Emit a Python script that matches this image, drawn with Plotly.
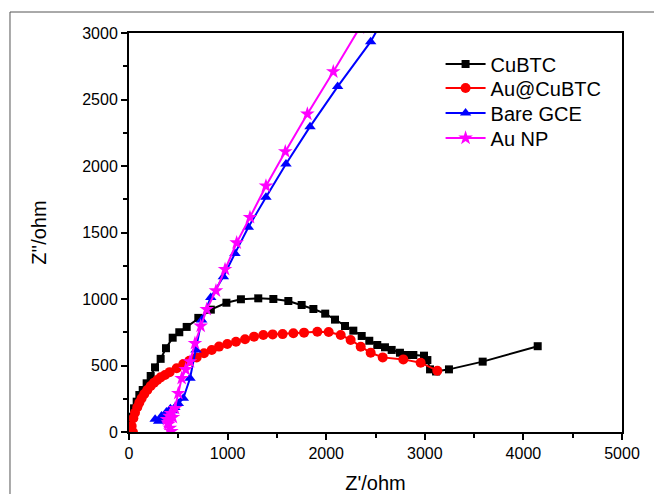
import plotly.graph_objects as go

# Nyquist impedance data (Z' real part, Z'' imaginary part, in ohm)
cubtc_x = [0, 3, 10, 27, 51, 78, 105, 139, 179, 220, 264, 321, 375, 443, 510, 585,
           703, 830, 988, 1135, 1311, 1464, 1616, 1751, 1870, 1990, 2089, 2191,
           2275, 2360, 2437, 2518, 2596, 2664, 2748, 2809, 2884, 2992, 3026,
           3053, 3114, 3245, 3587, 4145]
cubtc_y = [0, 15, 53, 115, 178, 228, 278, 316, 366, 421, 486, 550, 630, 709, 750,
           790, 858, 920, 972, 998, 1005, 1000, 985, 955, 925, 890, 845, 797,
           762, 722, 686, 654, 637, 617, 596, 579, 579, 574, 541, 471, 455,
           471, 529, 645]

au_cubtc_x = [40, 27, 44, 61, 84, 105, 128, 155, 186, 220, 254, 287, 321, 365,
              412, 484, 551, 612, 686, 761, 839, 913, 997, 1085, 1177, 1268,
              1362, 1457, 1558, 1667, 1775, 1910, 2025, 2147, 2248, 2350, 2451,
              2573, 2782, 2958, 3127]
au_cubtc_y = [0, 45, 103, 145, 186, 221, 253, 286, 316, 346, 371, 391, 411, 428,
              450, 479, 511, 536, 561, 592, 617, 642, 662, 679, 697, 717, 729,
              734, 736, 742, 747, 754, 752, 729, 692, 641, 596, 561, 546, 521,
              461]

bare_gce_x = [265, 300, 330, 355, 380, 400, 420, 440, 465, 500, 551, 619, 680,
              737, 829, 957, 1075, 1210, 1389, 1592, 1836, 2116, 2451, 2560]
bare_gce_y = [95, 80, 120, 105, 150, 135, 175, 160, 185, 215, 253, 404, 617,
              842, 1012, 1168, 1343, 1539, 1765, 2015, 2296, 2597, 2935, 3080]

au_np_x = [430, 415, 400, 385, 410, 395, 425, 445, 467, 500, 534, 575, 619, 669,
           727, 788, 882, 974, 1092, 1227, 1389, 1585, 1809, 2072, 2340]
au_np_y = [5, 30, 60, 95, 120, 70, 140, 110, 178, 291, 404, 470, 529, 667, 797,
           922, 1062, 1223, 1423, 1614, 1850, 2108, 2391, 2709, 3040]

series = [
    ("CuBTC", cubtc_x, cubtc_y, "#000000", "square", 8),
    ("Au@CuBTC", au_cubtc_x, au_cubtc_y, "#ff0000", "circle", 10),
    ("Bare GCE", bare_gce_x, bare_gce_y, "#0000ff", "triangle-up", 10),
    ("Au NP", au_np_x, au_np_y, "#ff00ff", "star", 11),
]

FONT = "Arial, Liberation Sans, sans-serif"

# one legend box per series so the rows can be spaced freely
legend_ids = ["legend", "legend2", "legend3", "legend4"]
legend_rows = [0.922, 0.862, 0.7995, 0.737]

fig = go.Figure()
for (name, xs, ys, color, symbol, size), lid in zip(series, legend_ids):
    fig.add_trace(go.Scatter(
        x=xs, y=ys, name=name, mode="lines+markers",
        line=dict(color=color, width=2),
        marker=dict(symbol=symbol, size=size, color=color, line=dict(width=0)),
        cliponaxis=True, legend=lid,
    ))

axis_common = dict(
    showline=True, linecolor="#000000", linewidth=2, mirror=True,
    ticks="outside", ticklen=6, tickwidth=2, tickcolor="#000000",
    showgrid=False, zeroline=False, automargin=False,
    tickfont=dict(family=FONT, size=16, color="#000000"),
)

fig.update_xaxes(
    range=[0, 5000], dtick=1000, tick0=0,
    minor=dict(ticks="outside", dtick=500, ticklen=4, tickwidth=2, tickcolor="#000000"),
    title=dict(text="Z'/ohm", font=dict(family=FONT, size=20, color="#000000"), standoff=20),
    **axis_common,
)
fig.update_yaxes(
    range=[0, 3000], dtick=500, tick0=0,
    minor=dict(ticks="outside", dtick=250, ticklen=4, tickwidth=2, tickcolor="#000000"),
    title=dict(text="Z''/ohm", font=dict(family=FONT, size=20, color="#000000"), standoff=30),
    **axis_common,
)

# outer figure frame
fig.add_shape(type="rect", xref="paper", yref="paper",
              x0=-0.2414, x1=1.1, y0=-0.2, y1=1.0526,
              line=dict(color="#555555", width=1), layer="below")

legend_style = dict(
    x=0.632, xanchor="left", yanchor="middle",
    bgcolor="rgba(0,0,0,0)", borderwidth=0,
    font=dict(family=FONT, size=20, color="#000000"),
    itemwidth=40,
)

fig.update_layout(
    width=654, height=494,
    margin=dict(l=129, r=32, t=33, b=62),
    plot_bgcolor="white", paper_bgcolor="white",
    font=dict(family=FONT, color="#000000"),
    showlegend=True,
    **{lid: dict(y=row, **legend_style) for lid, row in zip(legend_ids, legend_rows)},
)

fig.write_html("out.html")
